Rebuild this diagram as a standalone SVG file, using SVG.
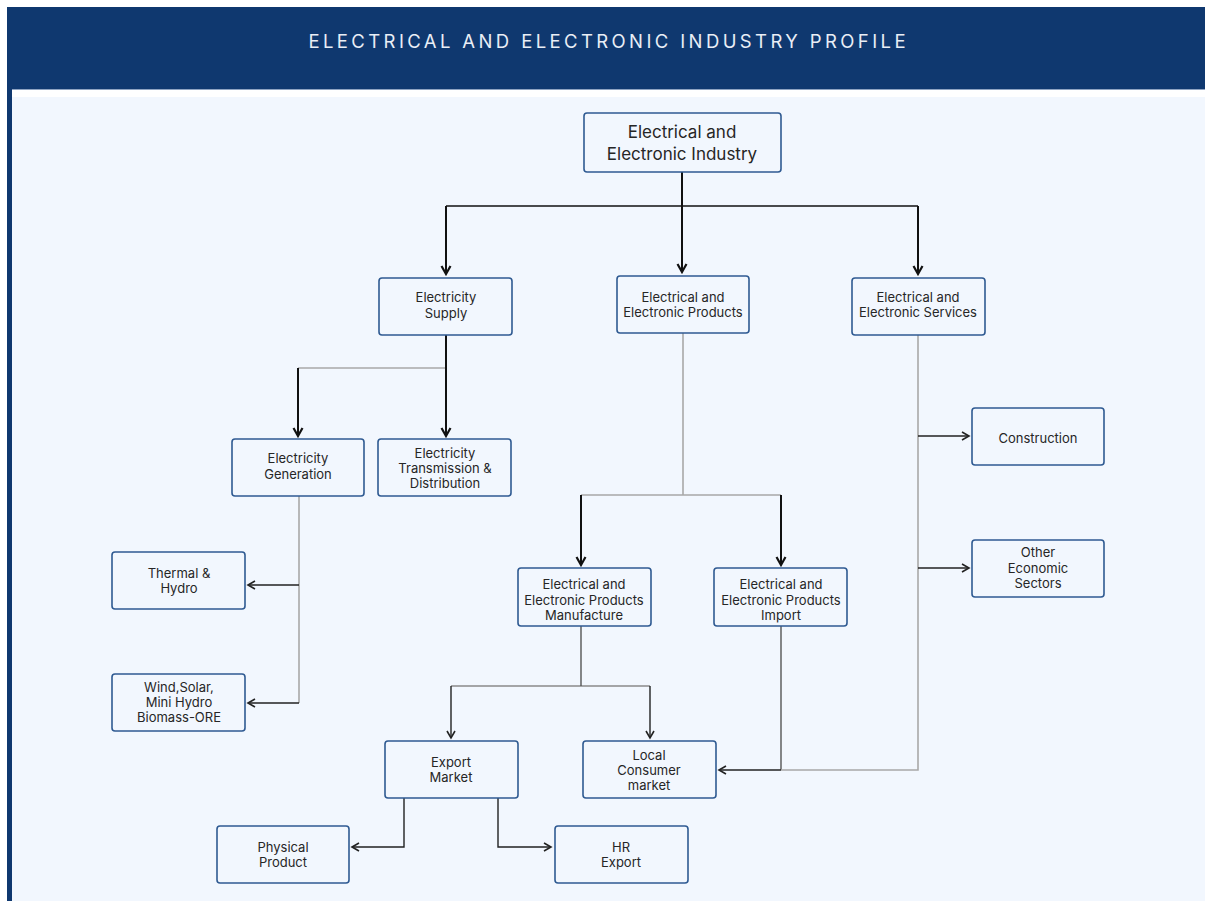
<svg xmlns="http://www.w3.org/2000/svg" width="1205" height="901" viewBox="0 0 1205 901">
  <style>
    .node rect { fill: #f2f7fe; stroke: #2f5a92; stroke-width: 1.6; }
    .node text { font-family: Inter, Roboto, "Liberation Sans", sans-serif; font-size: 13px; fill: #262626; text-anchor: middle; }
    .node.big text { font-size: 17px; }
    .dark { fill: none; stroke: #111; stroke-width: 2; }
    .thin { fill: none; stroke: #222; stroke-width: 1.4; }
    .gray { fill: none; stroke: #a8a8a8; stroke-width: 1.6; }
  </style>
  <defs>
    <marker id="arrowBig" viewBox="0 0 12 12" refX="10" refY="6" markerWidth="12" markerHeight="12" markerUnits="userSpaceOnUse" orient="auto">
      <path d="M2,1.5 L10,6 L2,10.5" fill="none" stroke="#111" stroke-width="2.2"/>
    </marker>
    <marker id="arrowSmall" viewBox="0 0 12 12" refX="10" refY="6" markerWidth="12" markerHeight="12" markerUnits="userSpaceOnUse" orient="auto">
      <path d="M3,2 L10,6 L3,10" fill="none" stroke="#222" stroke-width="1.6"/>
    </marker>
  </defs>

  <!-- page frame -->
  <rect x="0" y="0" width="1205" height="901" fill="#ffffff"/>
  <rect x="7" y="7" width="1198" height="894" fill="#0f386f"/>
  <rect x="12" y="89" width="1193" height="812" fill="#ffffff"/>
  <rect x="12" y="97" width="1193" height="804" fill="#f2f7fe"/>
  <line x1="12" y1="89.5" x2="1205" y2="89.5" stroke="#8ea3c2" stroke-width="1"/>
  <text x="607" y="48" font-family="Inter, Roboto, 'Liberation Sans', sans-serif" font-size="18.5" fill="#e9eef6" text-anchor="middle" textLength="597" lengthAdjust="spacing">ELECTRICAL AND ELECTRONIC INDUSTRY PROFILE</text>

  <!-- connectors -->
  <g id="connectors">
    <!-- root fan-out -->
    <path class="dark" d="M682,172 V272" marker-end="url(#arrowBig)"/>
    <path class="dark" d="M446,206 H918" style="stroke-width:1.6"/>
    <path class="dark" d="M446,206 V274" marker-end="url(#arrowBig)"/>
    <path class="dark" d="M918,206 V274" marker-end="url(#arrowBig)"/>

    <!-- electricity supply -->
    <path class="gray" d="M298,368 H446"/>
    <path class="dark" d="M446,335 V436" marker-end="url(#arrowBig)"/>
    <path class="dark" d="M298,368 V436" marker-end="url(#arrowBig)"/>

    <!-- electricity generation -->
    <path class="gray" d="M299,496 V703"/>
    <path class="thin" d="M299,585 H248" marker-end="url(#arrowSmall)"/>
    <path class="thin" d="M299,703 H248" marker-end="url(#arrowSmall)"/>

    <!-- products -->
    <path class="gray" d="M683,333 V495 M581,495 H781"/>
    <path class="dark" d="M581,495 V565" marker-end="url(#arrowBig)"/>
    <path class="dark" d="M781,495 V565" marker-end="url(#arrowBig)"/>

    <!-- manufacture -->
    <path class="gray" d="M451,686 H650" style="stroke:#8a8a8a"/>
    <path class="thin" d="M581,626 V686" style="stroke:#555"/>
    <path class="thin" d="M451,686 V738" marker-end="url(#arrowSmall)"/>
    <path class="thin" d="M650,686 V738" marker-end="url(#arrowSmall)"/>

    <!-- import and services into local market -->
    <path class="thin" d="M781,626 V770" style="stroke:#555"/>
    <path class="gray" d="M918,335 V770 H781"/>
    <path class="thin" d="M781,770 H719" marker-end="url(#arrowSmall)"/>
    <path class="thin" d="M918,436 H969" marker-end="url(#arrowSmall)"/>
    <path class="thin" d="M918,568 H969" marker-end="url(#arrowSmall)"/>

    <!-- export market -->
    <path class="thin" d="M404,798 V847 H352" marker-end="url(#arrowSmall)"/>
    <path class="thin" d="M498,798 V847 H551" marker-end="url(#arrowSmall)"/>
  </g>

  <!-- nodes -->
  <g id="industry" class="node big">
    <rect x="584" y="113" width="197" height="59" rx="3"/>
    <text x="682" y="138">Electrical and</text>
    <text x="682" y="160">Electronic Industry</text>
  </g>
  <g id="supply" class="node">
    <rect x="379" y="278" width="133" height="57" rx="3"/>
    <text x="446" y="302">Electricity</text>
    <text x="446" y="318">Supply</text>
  </g>
  <g id="products" class="node">
    <rect x="617" y="276" width="132" height="57" rx="3"/>
    <text x="683" y="302">Electrical and</text>
    <text x="683" y="317">Electronic Products</text>
  </g>
  <g id="services" class="node">
    <rect x="852" y="278" width="133" height="57" rx="3"/>
    <text x="918" y="302">Electrical and</text>
    <text x="918" y="317">Electronic Services</text>
  </g>
  <g id="generation" class="node">
    <rect x="232" y="439" width="132" height="57" rx="3"/>
    <text x="298" y="463">Electricity</text>
    <text x="298" y="479">Generation</text>
  </g>
  <g id="transmission" class="node">
    <rect x="378" y="439" width="133" height="57" rx="3"/>
    <text x="445" y="458">Electricity</text>
    <text x="445" y="473">Transmission &amp;</text>
    <text x="445" y="488">Distribution</text>
  </g>
  <g id="thermal" class="node">
    <rect x="112" y="552" width="133" height="57" rx="3"/>
    <text x="179" y="578">Thermal &amp;</text>
    <text x="179" y="593">Hydro</text>
  </g>
  <g id="renewables" class="node">
    <rect x="112" y="674" width="133" height="57" rx="3"/>
    <text x="179" y="692">Wind,Solar,</text>
    <text x="179" y="707">Mini Hydro</text>
    <text x="179" y="722">Biomass-ORE</text>
  </g>
  <g id="manufacture" class="node">
    <rect x="518" y="568" width="133" height="58" rx="3"/>
    <text x="584" y="589">Electrical and</text>
    <text x="584" y="605">Electronic Products</text>
    <text x="584" y="620">Manufacture</text>
  </g>
  <g id="import" class="node">
    <rect x="714" y="568" width="133" height="58" rx="3"/>
    <text x="781" y="589">Electrical and</text>
    <text x="781" y="605">Electronic Products</text>
    <text x="781" y="620">Import</text>
  </g>
  <g id="construction" class="node">
    <rect x="972" y="408" width="132" height="57" rx="3"/>
    <text x="1038" y="443">Construction</text>
  </g>
  <g id="other-sectors" class="node">
    <rect x="972" y="540" width="132" height="57" rx="3"/>
    <text x="1038" y="557">Other</text>
    <text x="1038" y="573">Economic</text>
    <text x="1038" y="588">Sectors</text>
  </g>
  <g id="export-market" class="node">
    <rect x="385" y="741" width="133" height="57" rx="3"/>
    <text x="451" y="767">Export</text>
    <text x="451" y="782">Market</text>
  </g>
  <g id="local-market" class="node">
    <rect x="583" y="741" width="133" height="57" rx="3"/>
    <text x="649" y="760">Local</text>
    <text x="649" y="775">Consumer</text>
    <text x="649" y="790">market</text>
  </g>
  <g id="physical-product" class="node">
    <rect x="217" y="826" width="132" height="57" rx="3"/>
    <text x="283" y="852">Physical</text>
    <text x="283" y="867">Product</text>
  </g>
  <g id="hr-export" class="node">
    <rect x="555" y="826" width="133" height="57" rx="3"/>
    <text x="621" y="852">HR</text>
    <text x="621" y="867">Export</text>
  </g>
</svg>
